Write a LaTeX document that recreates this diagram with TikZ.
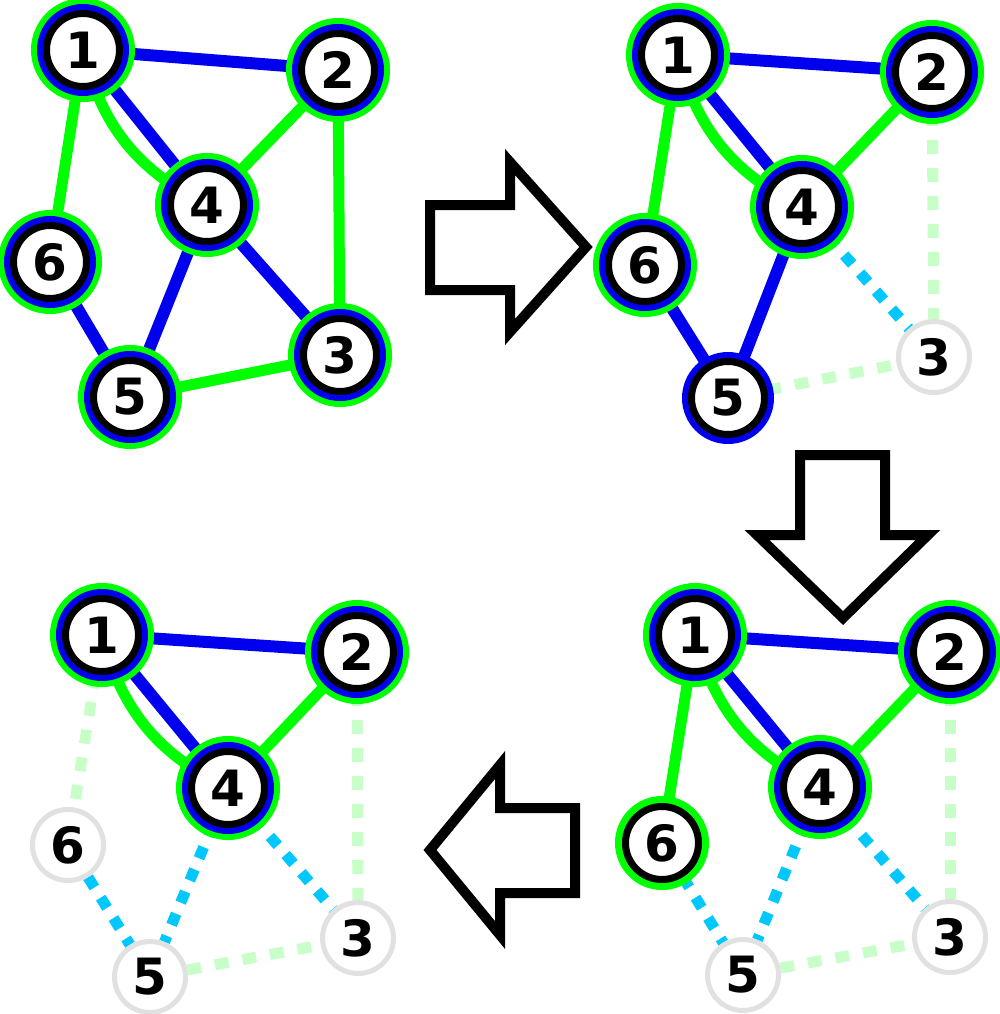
\documentclass[tikz,border=0pt]{standalone}
\usepackage{fontspec}
\setmainfont{DejaVu Sans}
\usetikzlibrary{backgrounds}
\definecolor{vgreen}{RGB}{0,255,0}
\definecolor{vblue}{RGB}{0,0,238}
\definecolor{vcyan}{RGB}{0,200,255}
\definecolor{lgreen}{RGB}{200,255,200}
\definecolor{lgray}{RGB}{225,225,225}
\tikzset{
    vnode/.style={circle, inner sep=0pt, minimum size=73pt, fill=white, draw=black,
                  line width=7pt, font=\fontsize{50}{50}\selectfont\bfseries},
    full/.style={vnode, preaction={draw=vgreen, line width=31pt},
                 preaction={draw=vblue, line width=19pt}},
    gonly/.style={vnode, preaction={draw=vgreen, line width=21pt}},
    bonly/.style={vnode, preaction={draw=vblue, line width=19pt}},
    gone/.style={circle, inner sep=0pt, minimum size=71pt, fill=white, draw=lgray,
                 line width=5pt, font=\fontsize{50}{50}\selectfont\bfseries},
    bedge/.style={draw=vblue, line width=12pt},
    gedge/.style={draw=vgreen, line width=11pt},
    cedge/.style={draw=vcyan, line width=11pt, dash pattern=on 12pt off 12pt},
    ledge/.style={draw=lgreen, line width=11pt, dash pattern=on 14pt off 14pt},
    bigarrow/.style={draw=black, fill=white, line width=10pt, line join=miter}
}
\begin{document}
\begin{tikzpicture}[x=1pt,y=-1pt]
    \useasboundingbox (0,0) rectangle (1000,1014);

    % top left
    \node[full] (a1) at (83,50) {1};
    \node[full] (a2) at (338,70) {2};
    \node[full] (a4) at (207,205) {4};
    \node[full] (a6) at (50,262) {6};
    \node[full] (a5) at (130,397) {5};
    \node[full] (a3) at (340,355) {3};

    % top right
    \node[full] (b1) at (678,55) {1};
    \node[full] (b2) at (932,72) {2};
    \node[full] (b4) at (802,207) {4};
    \node[full] (b6) at (645,265) {6};
    \node[bonly] (b5) at (728,398) {5};
    \node[gone] (b3) at (934,357) {3};

    % bottom right
    \node[full] (c1) at (695,635) {1};
    \node[full] (c2) at (950,652) {2};
    \node[full] (c4) at (820,787) {4};
    \node[gonly] (c6) at (662,843) {6};
    \node[gone] (c5) at (743,975) {5};
    \node[gone] (c3) at (950,937) {3};

    % bottom left
    \node[full] (d1) at (102,635) {1};
    \node[full] (d2) at (357,652) {2};
    \node[full] (d4) at (228,788) {4};
    \node[gone] (d6) at (68,845) {6};
    \node[gone] (d5) at (150,977) {5};
    \node[gone] (d3) at (358,938) {3};

    \begin{pgfonlayer}{background}
        \draw[bedge] (a1.center) -- (a2.center);
        \draw[bedge] (a1.center) -- (a4.center);
        \draw[gedge] (a1.center) to[bend right=25] (a4.center);
        \draw[gedge] (a1.center) -- (a6.center);
        \draw[gedge] (a2.center) -- (a4.center);
        \draw[gedge] (a2.center) -- (a3.center);
        \draw[bedge] (a4.center) -- (a3.center);
        \draw[bedge] (a4.center) -- (a5.center);
        \draw[bedge] (a6.center) -- (a5.center);
        \draw[gedge] (a5.center) -- (a3.center);

        \draw[bedge] (b1.center) -- (b2.center);
        \draw[bedge] (b1.center) -- (b4.center);
        \draw[gedge] (b1.center) to[bend right=25] (b4.center);
        \draw[gedge] (b1.center) -- (b6.center);
        \draw[gedge] (b2.center) -- (b4.center);
        \draw[ledge] (b2) -- (b3);
        \draw[cedge] (b4) -- (b3);
        \draw[bedge] (b4.center) -- (b5.center);
        \draw[bedge] (b6.center) -- (b5.center);
        \draw[ledge] (b5) -- (b3);

        \draw[bedge] (c1.center) -- (c2.center);
        \draw[bedge] (c1.center) -- (c4.center);
        \draw[gedge] (c1.center) to[bend right=25] (c4.center);
        \draw[gedge] (c1.center) -- (c6.center);
        \draw[gedge] (c2.center) -- (c4.center);
        \draw[ledge] (c2) -- (c3);
        \draw[cedge] (c4) -- (c3);
        \draw[cedge] (c4) -- (c5);
        \draw[cedge] (c6) -- (c5);
        \draw[ledge] (c5) -- (c3);

        \draw[bedge] (d1.center) -- (d2.center);
        \draw[bedge] (d1.center) -- (d4.center);
        \draw[gedge] (d1.center) to[bend right=25] (d4.center);
        \draw[ledge] (d1) -- (d6);
        \draw[gedge] (d2.center) -- (d4.center);
        \draw[ledge] (d2) -- (d3);
        \draw[cedge] (d4) -- (d3);
        \draw[cedge] (d4) -- (d5);
        \draw[cedge] (d6) -- (d5);
        \draw[ledge] (d5) -- (d3);
    \end{pgfonlayer}

    % step arrows
    \draw[bigarrow] (430,205) -- (510,205) -- (510,162) -- (586,247) -- (510,332)
        -- (510,290) -- (430,290) -- cycle;
    \draw[bigarrow] (800,455) -- (885,455) -- (885,535) -- (928,535) -- (843,618)
        -- (757,535) -- (800,535) -- cycle;
    \draw[bigarrow] (575,808) -- (500,808) -- (500,765) -- (430,850) -- (500,935)
        -- (500,893) -- (575,893) -- cycle;
\end{tikzpicture}
\end{document}
